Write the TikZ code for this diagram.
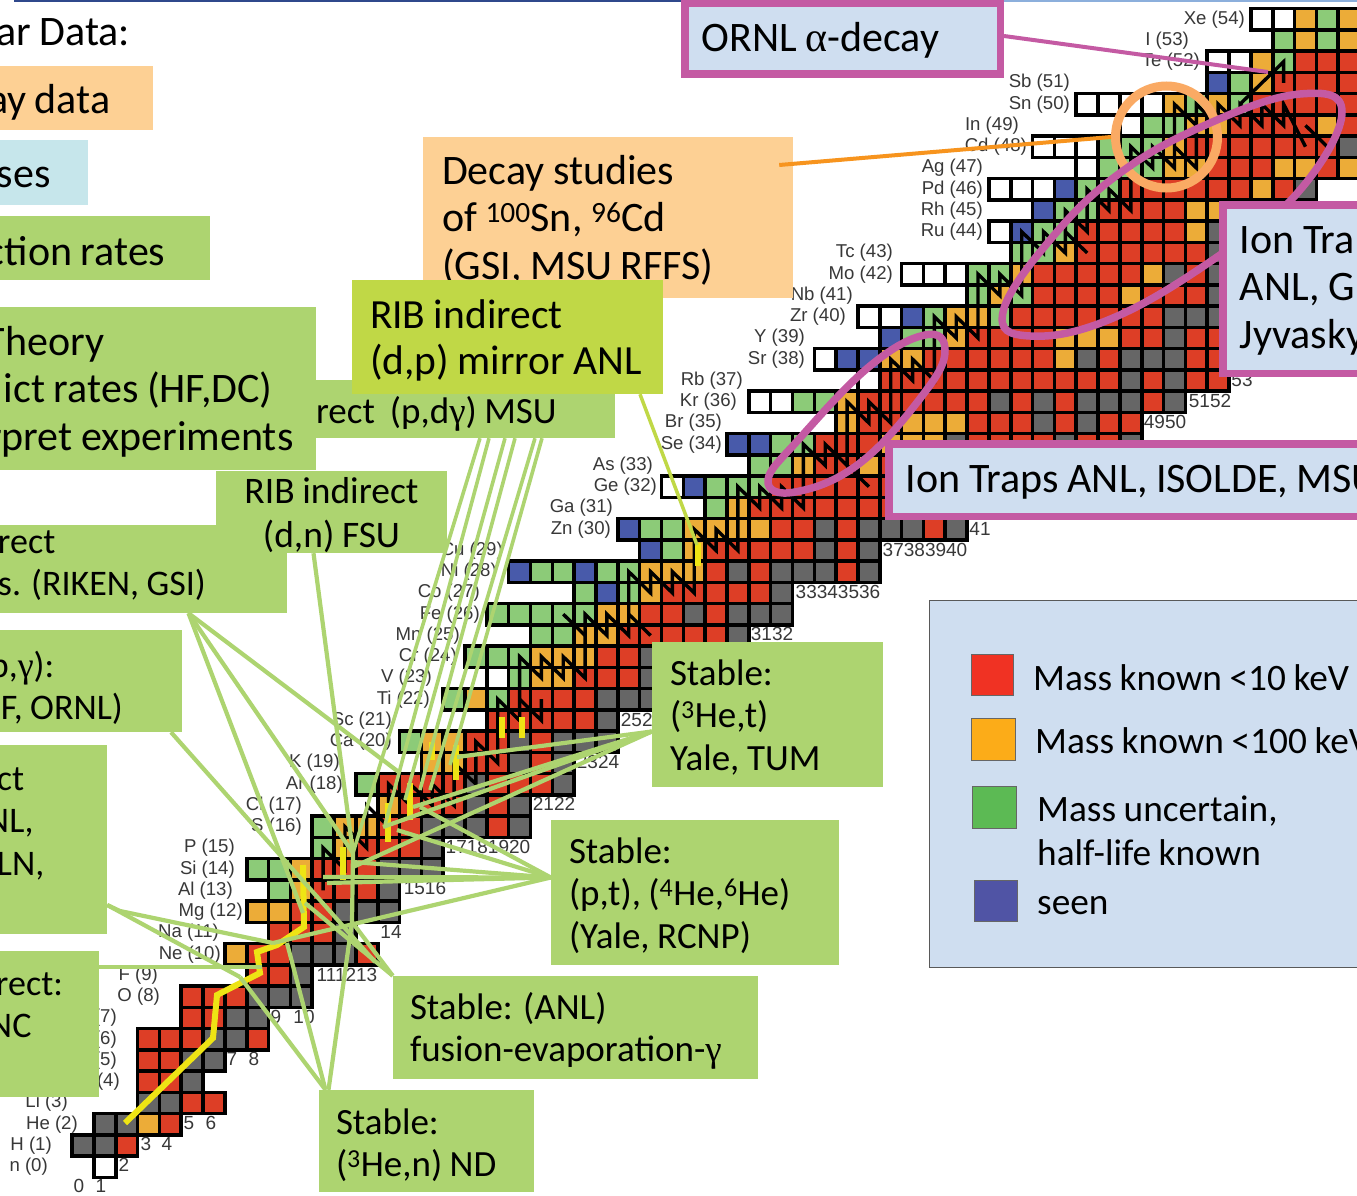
\documentclass[tikz,border=0pt]{standalone}
\usepackage{fontspec}
\setmainfont[WordSpace=0.9]{Carlito}
\newfontfamily\elabfont{Liberation Sans}
\newfontfamily\symfont{Liberation Serif}
\definecolor{cr}{RGB}{221,62,38}
\definecolor{co}{RGB}{236,172,56}
\definecolor{cg}{RGB}{140,203,120}
\definecolor{cb}{RGB}{72,90,170}
\definecolor{ck}{RGB}{102,102,102}
\definecolor{cw}{RGB}{255,255,255}
\definecolor{boxgreen}{RGB}{173,212,112}
\definecolor{ribgreen}{RGB}{192,216,70}
\definecolor{boxorange}{RGB}{253,208,148}
\definecolor{boxcyan}{RGB}{198,230,235}
\definecolor{boxblue}{RGB}{207,222,240}
\definecolor{purp}{RGB}{196,90,163}
\definecolor{ringorange}{RGB}{250,170,100}
\definecolor{lineorange}{RGB}{247,148,30}
\definecolor{pathyellow}{RGB}{238,228,20}
\definecolor{ruledark}{RGB}{47,72,140}
\definecolor{rulelight}{RGB}{140,175,220}
\definecolor{legred}{RGB}{240,50,35}
\definecolor{legorange}{RGB}{252,172,24}
\definecolor{leggreen}{RGB}{92,186,84}
\definecolor{legblue}{RGB}{80,84,165}
\tikzset{
 cell/.style={draw=black,line width=3.6pt,line join=miter},
 elab/.style={font=\elabfont\fontsize{18.6}{20}\selectfont,text=black!78,inner sep=0pt,anchor=east},
 nlab/.style={font=\elabfont\fontsize{19}{20}\selectfont,text=black!78,inner sep=0pt,anchor=center},
 zigline/.style={draw=black,line width=3.4pt,line join=miter},
 yellowline/.style={draw=pathyellow,line width=6pt},
 glink/.style={draw=boxgreen,line width=4.2pt},
 bigfont/.style={font=\fontsize{42}{47.5}\selectfont},
 midfont/.style={font=\fontsize{37}{42.7}\selectfont},
 smallfont/.style={font=\fontsize{36}{42.5}\selectfont},
 gbox/.style={fill=boxgreen,midfont},
 obox/.style={fill=boxorange,bigfont},
 cbox/.style={fill=boxcyan,bigfont},
 rbox/.style={fill=ribgreen,bigfont},
 pbox/.style={draw=purp,line width=7.5pt,fill=boxblue,bigfont},
 oval/.style={draw=purp,line width=7.5pt},
 swatch/.style={draw=black!60,line width=.6pt,inner sep=0pt},
 legtext/.style={font=\fontsize{37.3}{40}\selectfont,anchor=west,inner sep=0pt},
}
\newcommand{\rowc}[3]{\foreach \cc [count=\nn from #2] in {#3} {\draw[cell,fill=c\cc] (\nn-.5,#1-.5) rectangle (\nn+.5,#1+.5);}}
% name, style, x0,y0,x1,y1, left pad, baseline of first line (px), text
\newcommand{\myBox}[9]{%
 \pgfmathsetmacro\bw{#5-(#3)}\pgfmathsetmacro\bh{#6-(#4)}%
 \pgfmathsetmacro\bcx{((#3)+#5)/2}\pgfmathsetmacro\bcy{((#4)+#6)/2}\pgfmathsetmacro\btw{\bw-2*#7}%
 \pgfmathsetmacro\myT{#8-(#4)}%
 \node[#2,minimum width=\bw pt,minimum height=\bh pt,inner sep=0pt] (#1) at (\bcx,\bcy) {\parbox[c][\bh pt][t]{\btw pt}{\raggedright\vspace*{\dimexpr\myT pt-1em\relax}\rule{0pt}{1em}#9}};}
\begin{document}
\begin{tikzpicture}[x=1pt,y=-1pt]
\useasboundingbox (0,0) rectangle (1357,1196);
\clip (0,0) rectangle (1357,1196);
\fill[white] (0,0) rectangle (1357,1196);
% chart
\begin{scope}[shift={(83,1166.7)},x=21.83pt,y=21.25pt]
\rowc{0}{1}{w}
\rowc{1}{0}{k,k,r}
\rowc{2}{1}{k,k,o,r}
\rowc{3}{3}{k,k,r,r}
\rowc{4}{3}{r,r,k}
\rowc{5}{3}{r,r,k,k}
\rowc{6}{3}{r,r,r,k,k,r}
\rowc{7}{5}{r,r,k,k}
\rowc{8}{5}{r,r,r,k,k,k}
\rowc{9}{8}{r,r,k}
\rowc{10}{7}{o,r,r,k,k,k,r}
\rowc{11}{9}{r,r,r,k}
\rowc{12}{8}{o,o,r,r,k,k,k}
\rowc{13}{9}{g,o,r,r,r,k}
\rowc{14}{8}{g,g,o,r,r,r,k,k,k}
\rowc{15}{11}{g,o,r,r,r,k}
\rowc{16}{11}{g,o,o,r,r,k,k,k,r,k}
\rowc{17}{14}{o,r,r,r,k,r,k}
\rowc{18}{13}{g,r,r,r,r,k,r,r,r,k}
\rowc{19}{16}{o,o,r,r,k,r,k}
\rowc{20}{15}{g,o,o,r,r,k,r,k,k,k}
\rowc{21}{19}{r,r,r,r,r,k}
\rowc{22}{17}{g,o,g,r,r,r,r,k,k,k}
\rowc{23}{19}{w,g,o,o,r,r,r,k}
\rowc{24}{18}{g,g,g,o,o,o,r,r,k}
\rowc{25}{21}{g,g,o,o,r,r,r,r,r,k}
\rowc{26}{19}{g,g,g,g,g,o,o,r,r,k,r,k,k,k}
\rowc{27}{23}{g,b,g,o,r,r,r,r,r,k}
\rowc{28}{20}{b,g,g,b,g,g,o,o,o,r,k,r,k,k,k,r,k}
\rowc{29}{26}{b,g,o,r,r,r,r,r,k,r,k}
\rowc{30}{25}{b,g,g,o,o,o,o,r,r,k,r,k,k,k,r,k}
\rowc{31}{29}{g,o,r,r,r,r,r,r,r,r,r,r,r,r}
\rowc{32}{27}{w,b,g,g,g,r,r,r,r,r,r,r,r,r,r,r,r,r}
\rowc{33}{31}{g,g,o,r,r,o,r,r,r,r,r,r,r,r}
\rowc{34}{30}{b,b,g,g,r,r,r,o,o,o,k,r,r,r,r,k,r,r,k}
\rowc{35}{35}{o,r,r,o,o,o,r,r,r,k,r,k,r,r}
\rowc{36}{31}{w,w,g,g,o,r,r,r,r,r,r,k,r,k,r,k,k,k,r,k}
\rowc{37}{36}{w,r,r,r,r,r,r,r,r,r,r,r,k,r,k,r,r}
\rowc{38}{34}{w,b,b,o,o,r,r,r,r,r,r,o,k,r,k,k,k,r,r}
\rowc{39}{37}{b,g,g,o,r,r,r,r,o,o,o,r,r,k,r,r}
\rowc{40}{36}{w,w,b,g,o,o,g,r,r,r,r,r,r,r,k,k,k}
\rowc{41}{41}{g,o,g,r,r,r,r,o,r,r,r,k}
\rowc{42}{38}{w,w,w,g,g,o,r,r,r,r,r,o,k,r,k}
\rowc{43}{43}{g,g,o,r,r,r,r,r,r,k}
\rowc{44}{42}{w,b,g,g,r,r,r,r,r,o,k}
\rowc{45}{44}{b,g,g,r,r,r,r,o,o}
\rowc{46}{42}{w,w,w,b,g,g,r,r,r,r,r,r,o,r,k}
\rowc{47}{46}{w,g,g,g,o,o,r,r,r,o,o,r,o,o}
\rowc{48}{44}{w,w,w,g,g,g,o,r,r,r,r,r,r,r,k,k}
\rowc{49}{48}{w,g,g,o,o,r,r,r,r,o,r,r}
\rowc{50}{46}{w,w,w,w,o,g,o,g,r,r,r,r,r,r}
\rowc{51}{52}{b,g,o,r,r,r,r,r}
\rowc{52}{52}{w,w,o,g,r,r,r,r}
\rowc{53}{55}{g,o,g,o,o}
\rowc{54}{54}{w,w,o,g,o,o}
% rp-process zigzag
\draw[zigline] (11,13)--(11,15)--(12,14)--(12,16)--(13,15)--(13,17)--(14,16)--(14,18)--(15,17)--(15,18)--(16,17)--(16,18)--(17,17)--(17,19)--(18,18)--(18,20)--(19,19)--(19,22)--(20,21)--(20,24)--(21,23)--(21,24)--(22,23)--(22,24)--(23,23)--(23,26)--(24,25)--(24,26)--(25,25)--(25,28)--(26,27)--(26,28)--(27,27)--(27,28)--(28,27)--(28,30)--(29,29)--(29,30)--(30,29)--(30,32)--(31,31)--(31,32)--(32,31)--(32,32)--(33,31)--(33,34)--(34,33)--(34,34)--(35,33)--(35,36)--(36,35)--(36,36)--(37,35)--(37,38)--(38,37)--(38,38)--(39,37)--(39,40)--(40,39)--(40,40)--(41,39)--(41,42)--(42,41)--(42,42)--(43,41)--(43,44)--(44,43)--(44,44)--(45,43)--(45,45)--(46,44)--(46,46)--(47,45)--(47,46)--(48,45)--(48,48)--(49,47)--(49,48)--(50,47)--(50,50)--(51,49)--(51,50)--(52,49)--(52,50)--(53,49)--(53,50)--(54,49)--(54,50)--(55,49)--(55,50)--(56,48);
\draw[zigline] (20,22)--(21,21)--(21,22);
\draw[zigline] (22,26)--(23,25);
\draw[zigline] (25,26)--(26,25);
\draw[zigline] (35,33)--(36,32);
\draw[zigline] (45,44)--(46,43);
\draw[zigline] (50,48)--(51,47)--(51,49);
\draw[zigline] (53,50)--(55,52)--(55,51);
\draw[zigline] (56,49)--(57,48);
\end{scope}
% element labels
\foreach \z/\t/\x in {54/Xe/1245,53/I/1189,52/Te/1200,51/Sb/1070,50/Sn/1070,49/In/1019,48/Cd/1027,47/Ag/983,46/Pd/983,45/Rh/983,44/Ru/983,43/Tc/893,42/Mo/893,41/Nb/853,40/Zr/846,39/Y/805,38/Sr/805,37/Rb/743,36/Kr/737,35/Br/722,34/Se/722,33/As/653,32/Ge/657,31/Ga/613,30/Zn/611,29/Cu/503,28/Ni/497,27/Co/480,26/Fe/480,25/Mn/460,24/Cr/457,23/V/432,22/Ti/430,21/Sc/392,20/Ca/392,19/K/340,18/Ar/343,17/Cl/302,16/S/302,15/P/235,14/Si/235,13/Al/233,12/Mg/243,11/Na/219,10/Ne/221,9/F/158,8/O/160,7/N/117,6/C/117,5/B/117,4/Be/120,3/Li/68,2/He/78,1/H/52,0/n/48}
 {\pgfmathsetmacro\yy{1166.7-21.25*\z}\node[elab] (el\z) at (\x,\yy) {\t\ (\z)};}
% neutron number labels
\foreach \t/\x/\y in {0/79/1186,1/101/1186,2/124/1165,3/146/1144,4/167/1144,5/189/1123,6/211/1123,7/232/1059,8/254/1059,9/276/1017,10/304/1017,111213/347/975,14/391/932,1516/425/888,17181920/488/847,2122/554/804,2324/598/762,2526/642/720,3132/772/634,33343536/838/592,37383940/925/550,41/980/529,4950/1165/422,5152/1210/401,53/1242/380}
 {\node[nlab] (nl\t) at (\x,\y) {\t};}
% yellow path
\coordinate (y1) at (125,1123);\coordinate (y2) at (213,1038);\coordinate (y3) at (217,995);\coordinate (y4) at (260,973);\coordinate (y5) at (257,952);\coordinate (y6) at (277,945);\coordinate (y7) at (304,927);\coordinate (y8) at (303,865);
\draw[yellowline,line join=miter] (y1)--(y2)--(y3)--(y4)--(y5)--(y6)--(y7)--(y8);
\foreach \a/\xa/\ya/\xb/\yb in {a/343/847/343/880,b/388/803/388/842,c/410/783/410/820,d/432/742/432/760,e/456/745/456/780,f/502/717/502/738,g/522/717/522/738,h/698/543/698/566}
 {\coordinate (ys\a) at (\xa,\ya);\coordinate (ye\a) at (\xb,\yb);\draw[yellowline] (ys\a)--(ye\a);}
% ring and ovals
\node[draw=ringorange,line width=9pt,circle,minimum size=102pt,inner sep=0pt] (ring) at (1166.5,137) {};
\draw[oval] plot[smooth cycle,tension=.7] coordinates {(1003,312) (1050,240) (1120,173) (1210,123) (1300,94) (1342,112) (1300,190) (1220,255) (1113,318) (1030,336)};
\draw[oval] plot[smooth cycle,tension=.7] coordinates {(768,480) (800,438) (870,366) (925,335) (945,350) (925,392) (860,463) (795,492)};
% boxes
\myBox{nsc}{obox}{-12}{66}{153}{130}{0}{114}{ay data}
\myBox{ncy}{cbox}{-3}{140}{88}{205}{0}{187}{ses}
\myBox{nre}{gbox,bigfont}{-13}{216}{210}{280}{0}{265}{ction rates}
\myBox{decay}{obox}{423}{137}{793}{298}{19}{184}{Decay studies\\of \textsuperscript{100}Sn, \textsuperscript{96}Cd\\(GSI, MSU RFFS)}
\myBox{msu}{gbox,font=\fontsize{37}{43}\selectfont}{300}{380}{615}{438}{16}{423}{rect\ \ (p,d{\symfont γ}) MSU}
\myBox{theory}{gbox,bigfont}{0}{307}{316}{470}{0}{355}{\hspace*{-15pt}Theory\\\hspace*{4pt}ict rates (HF,DC)\\\hspace*{-13pt}rpret experiments}
\myBox{anlmirror}{rbox,font=\fontsize{41.5}{46.5}\selectfont}{352}{280}{663}{394}{18}{328}{RIB indirect\\(d,p) mirror ANL}
\myBox{riken}{gbox,smallfont}{-2}{525}{287}{613}{0}{553}{rect\\s. (RIKEN, GSI)}
\myBox{fsu}{gbox,font=\fontsize{37.5}{44}\selectfont}{216}{471}{447}{553}{5}{503}{\centering RIB indirect\\(d,n) FSU}
\myBox{pgam}{gbox,smallfont}{-2}{630}{182}{732}{0}{677}{\hspace*{-19pt}(p,{\symfont γ}):\\\hspace*{3pt}F, ORNL)}
\myBox{ln}{gbox,smallfont}{0}{745}{107}{934}{0}{790}{\hspace*{-3pt}ct\\\hspace*{-14pt}NL,\\\hspace*{-3pt}LN,}
\myBox{nc}{gbox,smallfont}{-2}{951}{99}{1097}{0}{995}{\hspace*{-2pt}rect:\\\hspace*{-9pt}NC}
\myBox{st}{gbox}{652}{642}{883}{787}{18}{685}{Stable:\\(\textsuperscript{3}He,t)\\Yale, TUM}
\myBox{pt}{gbox}{551}{820}{839}{965}{18}{863}{Stable:\\(p,t), (\textsuperscript{4}He,\textsuperscript{6}He)\\(Yale, RCNP)}
\myBox{anl}{gbox}{393}{976}{758}{1079}{17}{1019}{Stable: (ANL)\\fusion-evaporation-{\symfont γ}}
\myBox{nd}{gbox}{319}{1090}{534}{1192}{17}{1134}{Stable:\\(\textsuperscript{3}He,n) ND}
\myBox{ornl}{pbox}{684.75}{3.75}{1000.25}{74.25}{17}{52}{ORNL {\symfont α}-decay}
\myBox{iontra}{pbox}{1222.75}{204.75}{1450}{373.25}{17}{253}{Ion Tra\\ANL, G\\Jyvasky}
\myBox{ionmain}{pbox}{888.75}{443.75}{1500}{516.25}{17}{492}{Ion Traps ANL, ISOLDE, MSU}
% title text and top rules
\node[bigfont,anchor=base west,inner sep=0pt] (title) at (-4,46) {ar Data:};
\coordinate (r1) at (14,1);\coordinate (r2) at (681,1);\coordinate (r3) at (1004,.8);\coordinate (r4) at (1357,.8);
\draw[ruledark,line width=2.4pt] (r1)--(r2);
\draw[rulelight,line width=1.8pt] (r3)--(r4);
% legend
\node[fill=boxblue,draw=black!65,line width=.8pt,minimum width=500pt,minimum height=367pt,inner sep=0pt] (legend) at (1179,783.5) {};
\node[swatch,fill=legred,minimum width=42pt,minimum height=41pt] (sw1) at (992,674.5) {};
\node[swatch,fill=legorange,minimum width=44pt,minimum height=42pt] (sw2) at (993,739) {};
\node[swatch,fill=leggreen,minimum width=44pt,minimum height=42pt] (sw3) at (994,807) {};
\node[swatch,fill=legblue,minimum width=43pt,minimum height=41pt] (sw4) at (995.5,900.5) {};
\node[legtext] (lg1) at (1033,678) {Mass known <10 keV};
\node[legtext] (lg2) at (1035,741) {Mass known <100 keV};
\node[legtext] (lg3) at (1037,811) {Mass uncertain,};
\node[legtext] (lg4) at (1037,853) {half-life known};
\node[legtext] (lg5) at (1037,906) {seen};
% connectors
\coordinate (hA) at (353,853);\coordinate (hB) at (352,922);\coordinate (k1) at (273,943);\coordinate (k2) at (240,977);\coordinate (k0) at (120,911);
\coordinate (r1e) at (400,773);\coordinate (r3e) at (303,913);\coordinate (pge) at (375,962);\coordinate (pge2) at (262,967);
\draw[glink] ([xshift=46pt]riken.south)--(r1e);
\draw[glink] ([xshift=46pt]riken.south)--(hA);
\draw[glink] ([xshift=46pt]riken.south)--(r3e);
\draw[glink] ([xshift=-18pt]fsu.south)--(hA);
\draw[glink] ([xshift=81pt]pgam.south)--(pge);
\draw[glink] ([yshift=-65.5pt]ln.east)--(k0)--(k1);
\draw[glink] ([yshift=-65.5pt]ln.east)--(k2);
\draw[glink] ([yshift=57pt]nc.east)--(pge2);
\coordinate (nd2) at (287,943);
\draw[glink] ([xshift=-101pt]nd.north)--(k2);
\draw[glink] ([xshift=-101pt]nd.north)--(nd2);
\draw[glink] ([xshift=-98pt]nd.north)--(hB);
\draw[glink] (hA)--(hB);
\coordinate (an1) at (305,903);
\draw[glink] (anl.north west)--(an1);
\draw[glink] (anl.north west)--(hB);
\foreach \i/\dx/\xe/\ye in {1/22.5/353/853,2/31.5/385/825,3/47.5/405/800,4/57.5/420/790,5/77.5/430/790,6/84.5/450/765}
 {\coordinate (me\i) at (\xe,\ye);\draw[glink,line width=3.6pt] ([xshift=\dx pt]msu.south)--(me\i);}
\foreach \i/\xe/\ye in {1/457/757,2/413/807,3/383/827,4/353/867}
 {\coordinate (se\i) at (\xe,\ye);\draw[glink] ([yshift=-17pt]st.west)--(se\i);}
\foreach \i/\xe/\ye in {1/420/807,2/397/830,3/353/862,4/323/877,5/327/883}
 {\coordinate (pe\i) at (\xe,\ye);\draw[glink] ([yshift=15pt]pt.west)--(pe\i);}
\draw[glink] ([yshift=15pt]pt.west)--(k1);
\coordinate (ribe) at (697,545);
\draw[draw=ribgreen,line width=3.5pt] ([xshift=132.5pt]anlmirror.south)--(ribe);
\draw[draw=lineorange,line width=4pt] ([xshift=-14pt,yshift=52.5pt]decay.east)--(ring.west);
\coordinate (orne) at (1268,72);
\draw[draw=purp,line width=4pt] ([yshift=3pt]ornl.east)--(orne);
\end{tikzpicture}
\end{document}
